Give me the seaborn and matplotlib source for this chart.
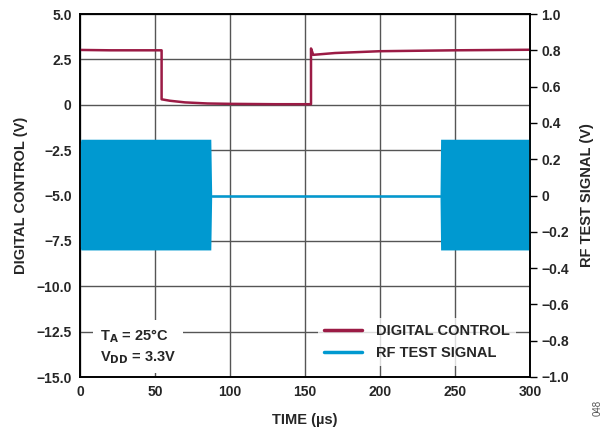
import numpy as np
import pandas as pd
import matplotlib
matplotlib.use("Agg")
import matplotlib.pyplot as plt
import seaborn as sns
from matplotlib.lines import Line2D

# digital control trace (V, left axis), breakpoints
dc_time = [0, 20, 40, 54.4, 54.4, 60, 70, 85, 100, 130, 154, 154, 155.5, 170, 200, 250, 300]
dc_volts = [3.02, 3.0, 3.0, 3.0, 0.30, 0.22, 0.13, 0.07, 0.05, 0.03, 0.03, 3.1, 2.75, 2.85, 2.95, 3.0, 3.03]

# RF test signal (V, right axis): burst envelopes and the idle trace between them
rf_burst1_time = [0, 0.6, 87.2, 87.8]
rf_burst1_upper = [0.28, 0.31, 0.31, 0.0]
rf_burst1_lower = [-0.28, -0.30, -0.30, 0.0]
rf_burst2_time = [240, 240.4, 299.5, 300]
rf_burst2_upper = [0.0, 0.31, 0.31, 0.31]
rf_burst2_lower = [0.0, -0.30, -0.30, -0.30]
rf_idle_time = [87.8, 240]
rf_idle_volts = [0.0, 0.0]

left_ticks = [5.0, 2.5, 0, -2.5, -5.0, -7.5, -10.0, -12.5, -15.0]
left_labels = ["5.0", "2.5", "0", "\u22122.5", "\u22125.0", "\u22127.5", "\u221210.0", "\u221212.5", "\u221215.0"]
right_ticks = [1.0, 0.8, 0.6, 0.4, 0.2, 0, -0.2, -0.4, -0.6, -0.8, -1.0]
right_labels = ["1.0", "0.8", "0.6", "0.4", "0.2", "0", "\u22120.2", "\u22120.4", "\u22120.6", "\u22120.8", "\u22121.0"]
x_ticks = [0, 50, 100, 150, 200, 250, 300]

RED = "#9b1b45"
BLUE = "#0099d0"

sns.set_style("white")
plt.rcParams["font.family"] = ["Liberation Sans", "DejaVu Sans"]
plt.rcParams["font.weight"] = "bold"

fig = plt.figure(figsize=(6.05, 4.29), dpi=100)
ax = fig.add_axes([80 / 605, 1 - 377 / 429, 450 / 605, 363 / 429])
ax2 = ax.twinx()

dc = pd.DataFrame({"t": dc_time, "v": dc_volts})
sns.lineplot(data=dc, x="t", y="v", ax=ax, color=RED, lw=1.8, sort=False, estimator=None, zorder=3)

ax2.fill_between(rf_burst1_time, rf_burst1_lower, rf_burst1_upper, color=BLUE, lw=0)
ax2.fill_between(rf_burst2_time, rf_burst2_lower, rf_burst2_upper, color=BLUE, lw=0)
idle = pd.DataFrame({"t": rf_idle_time, "v": rf_idle_volts})
sns.lineplot(data=idle, x="t", y="v", ax=ax2, color=BLUE, lw=1.8, estimator=None)

ax.set_xlim(0, 300)
ax.set_ylim(-15, 5)
ax2.set_ylim(-1.0, 1.0)
ax.set_xticks(x_ticks)
ax.set_xticklabels([str(t) for t in x_ticks], fontsize=10, fontweight="bold")
ax.set_yticks(left_ticks)
ax.set_yticklabels(left_labels, fontsize=10, fontweight="bold")
ax2.set_yticks(right_ticks)
ax2.set_yticklabels(right_labels, fontsize=10, fontweight="bold")

ax.grid(True, color="#555555", lw=1)
ax.tick_params(axis="x", length=0, pad=6)
ax.tick_params(axis="y", length=0, pad=6)
ax2.tick_params(axis="y", direction="out", length=5, width=1, color="black", pad=3)

for a in (ax, ax2):
    for s in a.spines.values():
        s.set_color("black")
        s.set_linewidth(1.2)

ax.set_xlabel("TIME (\u00b5s)", fontsize=10.5, fontweight="bold", labelpad=10)
ax.set_ylabel("DIGITAL CONTROL (V)", fontsize=10.5, fontweight="bold", labelpad=6)
ax2.set_ylabel("RF TEST SIGNAL (V)", fontsize=10.5, fontweight="bold", labelpad=8)

handles = [Line2D([], [], color=RED, lw=2.5), Line2D([], [], color=BLUE, lw=2.5)]
leg = ax2.legend(handles, ["DIGITAL CONTROL", "RF TEST SIGNAL"], loc="lower right",
                 bbox_to_anchor=(0.985, 0.01), frameon=True, fancybox=False,
                 handlelength=2.6, handletextpad=1.0, labelspacing=0.55,
                 prop={"size": 10.5, "weight": "bold"})
leg.get_frame().set_facecolor("white")
leg.get_frame().set_edgecolor("none")

ax2.text(0.045, 0.03, "T$_\\mathbf{A}$ = 25\u00b0C\nV$_\\mathbf{DD}$ = 3.3V", transform=ax2.transAxes,
         fontsize=10.5, fontweight="bold", va="bottom", ha="left", linespacing=1.4,
         bbox=dict(facecolor="white", edgecolor="none", pad=5))

fig.text(0.988, 0.03, "048", rotation=90, fontsize=7, color="#555555", fontweight="normal",
         ha="center", va="bottom")

fig.savefig("out.png", dpi=100)
